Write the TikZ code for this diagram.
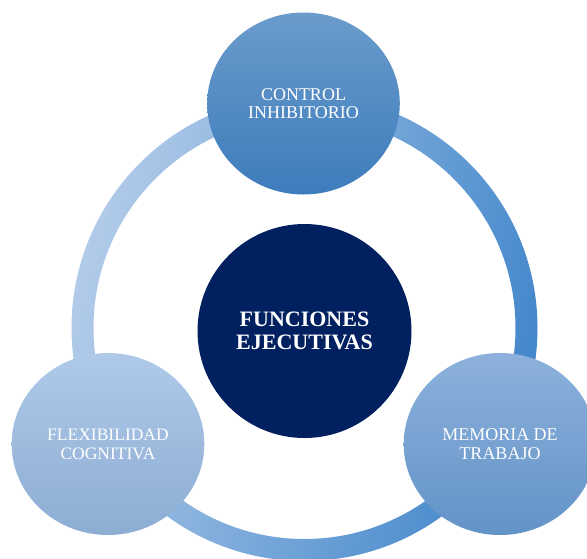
\documentclass[tikz,border=0pt]{standalone}
\usepackage{fontspec}
\setmainfont{Liberation Serif}
\usetikzlibrary{shapes.geometric}
\definecolor{navy}{HTML}{002060}
\definecolor{ringlight}{HTML}{B2CBE9}
\definecolor{ringdark}{HTML}{4287CB}
\definecolor{topA}{HTML}{6A9BCB}
\definecolor{topB}{HTML}{3E7CBC}
\definecolor{leftA}{HTML}{AFC9E9}
\definecolor{leftB}{HTML}{8DADD3}
\definecolor{rightA}{HTML}{8DB1DC}
\definecolor{rightB}{HTML}{6293C7}
\tikzset{
  sat/.style={ellipse, inner sep=0pt, minimum width=192.6pt, minimum height=182pt,
    text=white, align=center, font=\fontsize{18}{18.7}\selectfont},
  core/.style={circle, inner sep=0pt, minimum size=214pt, fill=navy,
    text=white, align=center, font=\fontsize{22}{23.3}\selectfont\bfseries},
  ringband/.style={even odd rule, top color=ringlight, bottom color=ringdark, shading angle=75}
}
\begin{document}
\begin{tikzpicture}[x=1pt,y=1pt]
\useasboundingbox (0,0) rectangle (587,-558);
\clip (0,0) rectangle (587,-558);
\coordinate (ringc) at (304.5,-328);
\shade[ringband] (ringc) circle[radius=233] (ringc) circle[radius=211];
\node[core] (fe) at (304.5,-331) {FUNCIONES\\EJECUTIVAS};
\node[sat, top color=topA, bottom color=topB] (ci) at (303.5,-103.5) {CONTROL\\INHIBITORIO};
\node[sat, top color=leftA, bottom color=leftB, font=\fontsize{17.5}{18.7}\selectfont] (fc) at (108,-444) {FLEXIBILIDAD\\COGNITIVA};
\node[sat, top color=rightA, bottom color=rightB] (mt) at (500,-444) {MEMORIA DE\\TRABAJO};
\end{tikzpicture}
\end{document}
